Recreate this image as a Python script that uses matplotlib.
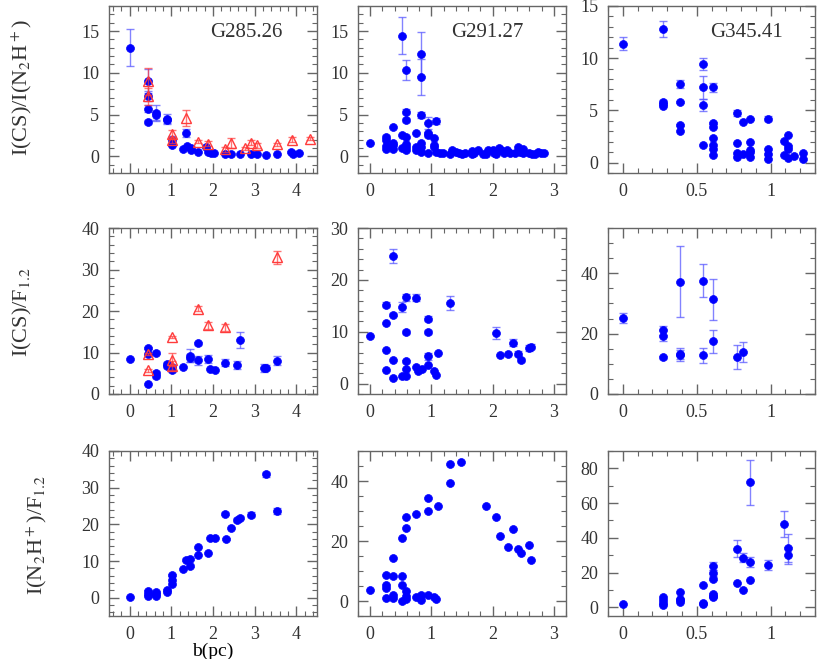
import numpy as np
import matplotlib
matplotlib.use("Agg")
import matplotlib.pyplot as plt
from matplotlib.ticker import MultipleLocator, FuncFormatter

plt.rcParams['font.family'] = ['Liberation Serif', 'DejaVu Serif']
plt.rcParams['mathtext.fontset'] = 'stix'
plt.rcParams['text.color'] = '#333333'

# ---- row 1: I(CS)/I(N2H+) ----
# G285.26
a_x = [0, 0.44, 0.44, 0.44, 0.44, 0.64, 0.64, 0.9, 0.9, 1.02, 1.02, 1.36, 1.28, 1.38, 1.46, 1.46,
       1.64, 1.82, 1.88, 1.94, 2.02, 2.28, 2.44, 2.66, 2.92, 3.06, 3.28, 3.54, 3.88, 3.93, 4.07]
a_y = [13.0, 9.0, 7.2, 5.7, 4.1, 5.2, 4.9, 4.5, 4.3, 2.0, 1.3, 2.8, 0.9, 1.2, 1.0, 0.7,
       0.55, 1.1, 0.55, 0.4, 0.4, 0.3, 0.3, 0.3, 0.3, 0.25, 0.2, 0.25, 0.5, 0.3, 0.45]
a_e = [2.2, 1.4, 0.6, 0.4, 0.2, 1.0, 0.5, 0.6, 0.3, 0.4, 0.1, 0.5, 0, 0, 0, 0,
       0, 0.1, 0, 0, 0, 0, 0, 0, 0, 0, 0, 0, 0.1, 0, 0]
ar_x = [0.44, 0.44, 1.02, 1.02, 1.36, 1.64, 1.88, 2.28, 2.44, 2.76, 2.92, 3.06, 3.54, 3.9, 4.32]
ar_y = [9.0, 7.2, 2.7, 1.9, 4.6, 1.75, 1.5, 0.85, 1.65, 0.95, 1.65, 1.3, 1.45, 2.0, 2.1]
ar_e = [1.6, 1.0, 0.4, 0.3, 1.0, 0.2, 0.3, 0.3, 0.6, 0.2, 0.3, 0.3, 0.2, 0.3, 0.2]

# G291.27
b_x = [0, 0.26, 0.26, 0.26, 0.26, 0.37, 0.37, 0.37, 0.37, 0.52, 0.52, 0.52,
       0.59, 0.59, 0.59, 0.59, 0.59, 0.59, 0.59, 0.74, 0.74, 0.74,
       0.83, 0.83, 0.83, 0.83, 0.83, 0.83, 0.95, 0.95, 0.95, 0.95,
       1.05, 1.05, 1.05, 1.08, 1.08, 1.14, 1.19,
       1.31, 1.34, 1.4, 1.45, 1.5, 1.55, 1.66, 1.66, 1.7, 1.76, 1.85, 1.9, 1.92, 2.0, 2.03,
       2.06, 2.11, 2.14, 2.18, 2.23, 2.28, 2.37, 2.42, 2.44, 2.49, 2.5, 2.6, 2.64, 2.69,
       2.75, 2.79, 2.84]
b_y = [1.55, 2.35, 1.95, 1.25, 0.9, 3.45, 1.55, 1.3, 0.85, 14.45, 2.55, 1.05,
       10.35, 5.35, 4.35, 2.35, 1.5, 1.15, 0.7, 2.85, 1.15, 0.7,
       12.25, 9.5, 4.9, 1.55, 1.15, 0.5, 3.95, 2.75, 2.5, 0.4,
       2.2, 1.3, 1.1, 4.25, 0.5, 0.35, 0.35,
       0.3, 0.7, 0.5, 0.45, 0.3, 0.35, 0.6, 0.25, 0.35, 0.7, 0.3, 0.3, 0.7, 0.7, 0.35,
       0.25, 0.95, 0.7, 0.45, 0.7, 0.35, 0.35, 1.15, 0.55, 0.9, 0.35, 0.35, 0.3, 0.25,
       0.55, 0.45, 0.35]
b_e = [0, 0.15, 0, 0, 0, 0, 0, 0, 0, 2.2, 0, 0,
       1.2, 0.3, 0.2, 0, 0, 0, 0, 0, 0, 0,
       2.6, 2.1, 0.35, 0, 0, 0, 0.7, 0.2, 0.2, 0,
       0, 0, 0, 0.35, 0, 0, 0,
       0, 0, 0, 0, 0, 0, 0, 0, 0, 0, 0, 0, 0, 0, 0,
       0, 0, 0, 0, 0, 0, 0, 0, 0, 0, 0, 0, 0, 0,
       0, 0, 0]

# G345.41
c_x = [0, 0.274, 0.274, 0.274, 0.274, 0.384, 0.384, 0.384, 0.384,
       0.544, 0.544, 0.544, 0.544, 0.611, 0.611, 0.611, 0.611, 0.611, 0.611, 0.611,
       0.771, 0.771, 0.771, 0.771, 0.816, 0.816, 0.863, 0.863, 0.863, 0.863, 0.863,
       0.982, 0.982, 0.982, 0.982, 1.09, 1.09, 1.12, 1.12, 1.12, 1.12, 1.155, 1.218, 1.218]
c_y = [11.4, 12.8, 5.85, 5.6, 5.4, 7.55, 5.8, 3.6, 3.05,
       9.45, 7.2, 5.5, 1.65, 7.2, 3.75, 3.45, 2.37, 1.66, 1.28, 0.74,
       4.75, 1.92, 0.96, 0.58, 3.85, 0.8, 4.2, 1.95, 1.2, 1.0, 0.58,
       4.2, 1.3, 0.8, 0.32, 2.05, 0.74, 2.6, 1.54, 1.3, 0.42, 0.67, 0.9, 0.35]
c_e = [0.62, 0.8, 0.15, 0, 0, 0.4, 0.1, 0.1, 0,
       0.55, 1.1, 0.6, 0, 0.4, 0.1, 0, 0, 0, 0, 0,
       0.25, 0, 0, 0, 0, 0, 0.1, 0, 0, 0, 0,
       0.25, 0, 0, 0, 0, 0, 0, 0.1, 0, 0, 0, 0, 0]

# ---- row 2: I(CS)/F1.2 ----
d_x = [0, 0.44, 0.44, 0.44, 0.64, 0.64, 0.64, 0.9, 0.9, 1.02, 1.02, 1.28, 1.44, 1.44,
       1.64, 1.64, 1.88, 1.92, 2.04, 2.28, 2.58, 2.66, 3.22, 3.28, 3.54]
d_y = [8.45, 11.1, 9.65, 2.5, 10.0, 5.0, 4.25, 7.25, 6.7, 5.7, 6.5, 6.45, 9.25, 8.7,
       12.2, 8.1, 8.5, 6.0, 5.8, 7.55, 7.0, 13.0, 6.2, 6.3, 8.05]
d_e = [0, 0.3, 0.3, 0, 0.4, 0.5, 0.3, 0.4, 0.4, 0.4, 0.4, 0, 1.5, 1.0,
       0.3, 1.0, 1.0, 0, 0, 0.8, 1.0, 2.0, 1.0, 0.6, 1.0]
dr_x = [0.44, 0.44, 1.02, 1.02, 1.02, 1.64, 1.88, 2.28, 3.54]
dr_y = [9.7, 5.7, 13.75, 8.3, 6.85, 20.5, 16.55, 16.1, 32.9]
dr_e = [0.3, 0.3, 0.3, 1.5, 1.0, 0.6, 0.9, 0.8, 1.6]

e_x = [0, 0.26, 0.26, 0.26, 0.26, 0.37, 0.37, 0.37, 0.37, 0.52, 0.52,
       0.59, 0.59, 0.59, 0.59, 0.59, 0.74, 0.74, 0.78, 0.84,
       0.95, 0.95, 0.95, 0.95, 1.05, 1.08, 1.11, 1.31,
       2.05, 2.12, 2.25, 2.34, 2.42, 2.47, 2.6, 2.62]
e_y = [9.15, 15.25, 11.65, 6.55, 2.65, 24.6, 13.25, 4.5, 1.05, 14.8, 1.55,
       16.65, 10.0, 4.3, 2.85, 1.55, 16.6, 3.2, 2.5, 2.75,
       12.5, 10.0, 5.25, 3.6, 2.45, 1.6, 6.0, 15.55,
       9.8, 5.45, 5.65, 7.9, 5.8, 4.55, 6.9, 7.15]
e_e = [0, 0.4, 0, 0, 0, 1.3, 0.3, 0, 0, 0.9, 0,
       0.7, 0.4, 0.3, 0, 0, 0.6, 0, 0, 0,
       0.5, 0.4, 0.7, 0, 0, 0, 0, 1.35,
       1.2, 0, 0, 0.7, 0.4, 0.4, 0.6, 0.5]

f_x = [0, 0.274, 0.274, 0.274, 0.384, 0.384, 0.384, 0.544, 0.544, 0.611, 0.611, 0.771, 0.816]
f_y = [25.2, 21.1, 19.35, 12.15, 37.25, 13.4, 12.8, 37.6, 12.8, 31.4, 17.45, 12.4, 13.9]
f_e = [1.8, 1.5, 1.8, 0.6, 11.7, 1.8, 1.8, 5.6, 2.5, 6.8, 3.7, 4.0, 3.2]

# ---- row 3: I(N2H+)/F1.2 ----
g_x = [0, 0.44, 0.44, 0.44, 0.64, 0.64, 0.64, 0.9, 0.9, 1.02, 1.02, 1.02, 1.28, 1.36,
       1.44, 1.44, 1.64, 1.64, 1.88, 1.92, 2.04, 2.28, 2.32, 2.44, 2.58, 2.66, 2.92, 3.28, 3.54]
g_y = [0.2, 1.7, 1.1, 0.45, 1.55, 1.1, 0.45, 2.15, 1.55, 6.15, 4.7, 3.6, 7.85, 10.3,
       10.6, 8.7, 13.7, 11.65, 12.1, 16.25, 16.15, 22.95, 16.0, 19.0, 21.15, 21.85, 22.65, 33.6, 23.65]
g_e = [0, 0.3, 0, 0, 0.3, 0, 0, 0.3, 0, 0.3, 0, 0, 0, 0.4,
       0.3, 0.4, 0, 0, 0, 0, 0, 0.5, 0.4, 0, 0.5, 0.5, 0.6, 0.8, 0.8]

h_x = [0, 0.26, 0.26, 0.26, 0.26, 0.37, 0.37, 0.37, 0.37, 0.52, 0.52, 0.52, 0.52,
       0.59, 0.59, 0.59, 0.59, 0.59, 0.74, 0.74, 0.83, 0.83, 0.95, 0.95, 0.95,
       1.05, 1.08, 1.11, 1.31, 1.31, 1.49, 1.89, 2.05, 2.12, 2.26, 2.34, 2.42, 2.47, 2.6, 2.62]
h_y = [3.65, 8.7, 5.3, 4.2, 1.1, 14.35, 8.5, 1.9, 1.1, 21.0, 8.4, 5.3, 0.0,
       24.4, 28.15, 3.2, 1.65, 0.55, 29.15, 1.2, 2.0, 0.2, 29.9, 34.3, 2.1,
       1.45, 0.75, 31.55, 45.8, 39.2, 46.25, 31.55, 28.15, 21.75, 18.0, 23.85, 17.35, 16.0, 18.55, 13.8]

i_x = [0, 0.274, 0.274, 0.274, 0.274, 0.384, 0.384, 0.384, 0.384, 0.544, 0.544, 0.544,
       0.611, 0.611, 0.611, 0.611, 0.611, 0.611, 0.771, 0.771, 0.816, 0.816,
       0.863, 0.863, 0.863, 0.982, 1.09, 1.12, 1.12]
i_y = [1.9, 5.7, 4.0, 2.5, 1.15, 8.75, 4.95, 4.0, 2.85, 12.95, 2.65, 1.9,
       23.8, 19.8, 16.55, 7.4, 6.65, 5.7, 33.7, 13.9, 28.55, 10.1,
       72.0, 26.1, 15.8, 24.2, 47.8, 34.1, 29.9]
i_e = [0, 0, 0, 0, 0, 0, 0, 0, 0, 0, 0, 0,
       2.3, 1.5, 1.0, 0.6, 0, 0, 5.0, 0, 2.5, 0,
       13.0, 3.0, 0, 2.8, 7.5, 8.0, 5.0]

titles = ["G285.26", "G291.27", "G345.41"]
ylabels = [r"I(CS)/I(N$_2$H$^+$)", r"I(CS)/F$_{1.2}$", r"I(N$_2$H$^+$)/F$_{1.2}$"]

BLUE = '#0000ff'
EBLUE = '#5a5aff'
RED = '#ff3b3b'
FRAME = '#666666'

fig = plt.figure(figsize=(8.17, 6.59), dpi=100)
W, H = 817.0, 659.0
col_left = [109, 358, 608]
col_w = [208, 208, 207]
row_top = [6, 228, 451]
row_h = [167, 166, 165]

# (xlim, ylim, x major, x minor, y major, y minor)
setup = [
    [((-0.5, 4.5), (-2, 18), 1, 0.2, 5, 1),
     ((-0.2, 3.2), (-2, 18), 1, 0.2, 5, 1),
     ((-0.1, 1.3), (-1, 15), 0.5, 0.1, 5, 1)],
    [((-0.5, 4.5), (0, 40), 1, 0.2, 10, 2),
     ((-0.2, 3.2), (-2, 30), 1, 0.2, 10, 2),
     ((-0.1, 1.3), (0, 55), 0.5, 0.1, 20, 5)],
    [((-0.5, 4.5), (-5, 40), 1, 0.2, 10, 2),
     ((-0.2, 3.2), (-5, 50), 1, 0.2, 20, 5),
     ((-0.1, 1.3), (-5, 90), 0.5, 0.1, 20, 10)],
]

blue_sets = [
    [(a_x, a_y, a_e), (b_x, b_y, b_e), (c_x, c_y, c_e)],
    [(d_x, d_y, d_e), (e_x, e_y, e_e), (f_x, f_y, f_e)],
    [(g_x, g_y, g_e), (h_x, h_y, [0] * len(h_x)), (i_x, i_y, i_e)],
]
red_sets = {(0, 0): (ar_x, ar_y, ar_e), (1, 0): (dr_x, dr_y, dr_e)}

# y label centres in pixels (x, y)
ylabel_pos = [(22, 88), (22, 312), (37, 535)]
title_pos = [0.66, 0.62, 0.67]

fmt = FuncFormatter(lambda v, _: f'{v:g}')


def errs(ax, x, y, e, color, **kw):
    x, y, e = np.asarray(x), np.asarray(y), np.asarray(e)
    m = e > 0
    if m.any():
        ax.errorbar(x[m], y[m], yerr=e[m], fmt='none', ecolor=color, elinewidth=1,
                    capsize=3, capthick=1, **kw)


for r in range(3):
    for c in range(3):
        left = col_left[c] / W
        bottom = 1 - (row_top[r] + row_h[r]) / H
        ax = fig.add_axes([left, bottom, col_w[c] / W, row_h[r] / H])
        xlim, ylim, xmaj, xmin, ymaj, ymin = setup[r][c]

        x, y, e = blue_sets[r][c]
        errs(ax, x, y, e, EBLUE, alpha=0.75, zorder=2)
        ax.plot(x, y, 'o', color=BLUE, ms=5.7, mec=BLUE, mew=0.5, zorder=3)

        if (r, c) in red_sets:
            rx, ry, re = red_sets[(r, c)]
            errs(ax, rx, ry, re, RED, alpha=0.7, zorder=4)
            ax.plot(rx, ry, '^', mfc='none', mec=RED, ms=7, mew=1, zorder=5)

        ax.set_xlim(*xlim)
        ax.set_ylim(*ylim)
        ax.xaxis.set_major_locator(MultipleLocator(xmaj))
        ax.xaxis.set_minor_locator(MultipleLocator(xmin))
        ax.yaxis.set_major_locator(MultipleLocator(ymaj))
        ax.yaxis.set_minor_locator(MultipleLocator(ymin))
        ax.xaxis.set_major_formatter(fmt)
        ax.yaxis.set_major_formatter(fmt)
        ax.tick_params(which='both', direction='in', top=True, right=True,
                       color=FRAME, labelcolor='#333333', labelsize=13, pad=7)
        ax.tick_params(which='major', length=7, width=1)
        ax.tick_params(which='minor', length=3.5, width=0.8)
        for s in ax.spines.values():
            s.set_color(FRAME)
            s.set_linewidth(1)

        if r == 0:
            ax.text(title_pos[c], 0.84, titles[c], transform=ax.transAxes, fontsize=15,
                    ha='center', va='center', color='#333333')
        if r == 2 and c == 0:
            ax.set_xlabel("b(pc)", fontsize=14, labelpad=0)

for r in range(3):
    px, py = ylabel_pos[r]
    fig.text(px / W, 1 - py / H, ylabels[r], rotation=90, fontsize=16,
             ha='center', va='center', color='#333333')

fig.savefig("out.png", dpi=100)
